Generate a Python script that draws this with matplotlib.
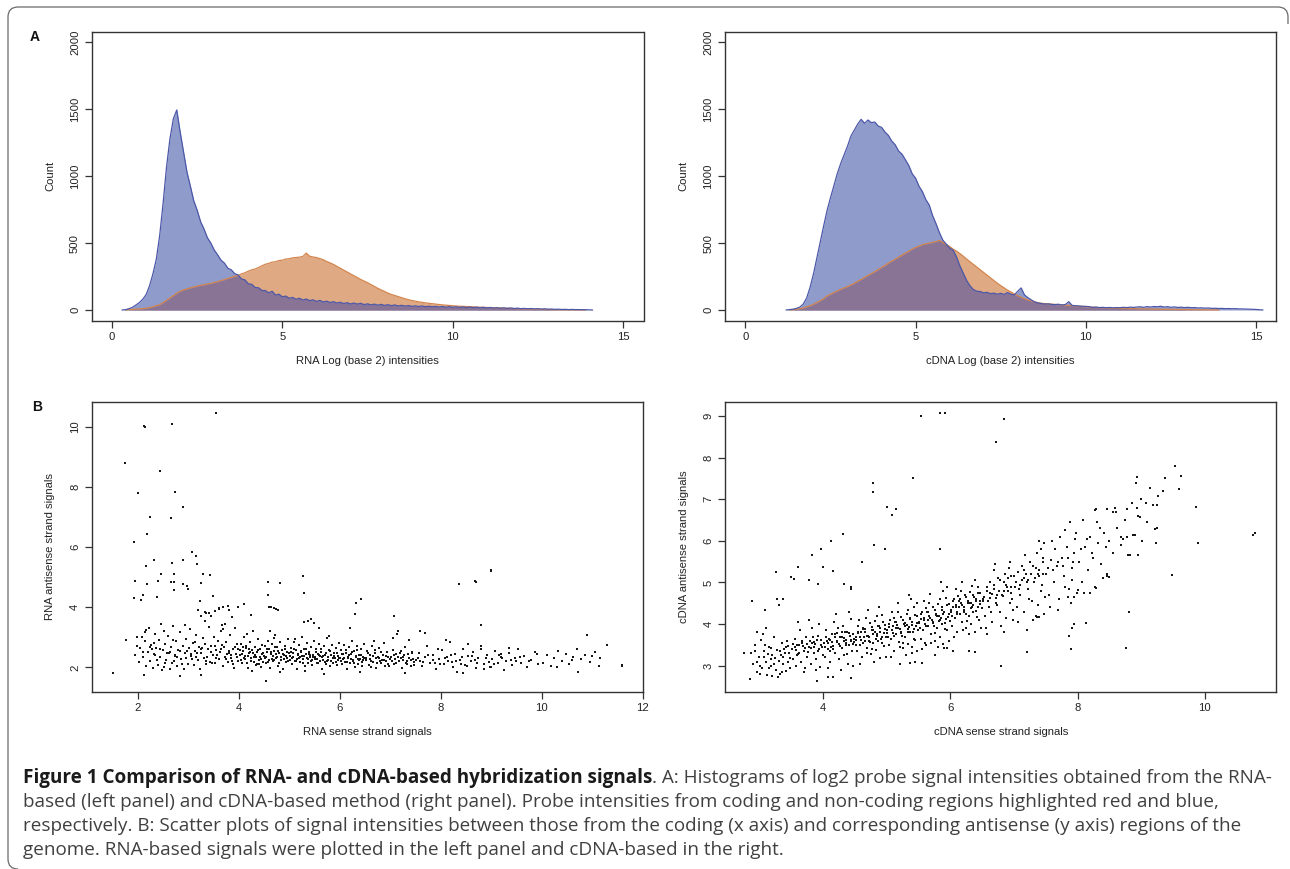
import numpy as np
import matplotlib
matplotlib.use("Agg")
import matplotlib.pyplot as plt
from matplotlib.path import Path
from matplotlib.patches import PathPatch

# ---------------- DATA ----------------
bin_width = 0.1
hist_xticks = [0, 5, 10, 15]
hist_yticks = [0, 500, 1000, 1500, 2000]

# RNA histogram: non-coding (blue) and coding (orange) counts
rna_nc_start = 0.3
rna_nc_counts = [
    0, 3, 10, 20, 37, 55, 80, 115, 180, 270,
    380, 560, 800, 1070, 1280, 1430, 1495, 1330, 1180, 1030,
    925, 815, 745, 660, 605, 540, 500, 448, 412, 372,
    350, 312, 300, 272, 262, 232, 225, 196, 192, 168,
    166, 146, 145, 128, 140, 112, 118, 98, 104, 88,
    94, 80, 88, 74, 82, 70, 76, 64, 72, 60,
    66, 56, 62, 52, 58, 48, 55, 45, 52, 44,
    50, 40, 46, 38, 44, 36, 42, 34, 40, 32,
    38, 30, 35, 29, 33, 27, 31, 26, 30, 25,
    28, 24, 27, 22, 26, 21, 25, 20, 24, 19,
    23, 18, 22, 17, 21, 16, 20, 15, 19, 14,
    17, 13, 16, 12, 15, 11, 14, 10, 12, 9,
    11, 8, 10, 7, 9, 6, 7, 5, 6, 4,
    5, 3, 4, 3, 3, 2, 2, 1, 0]
rna_cd_start = 0.4
rna_cd_counts = [
    0, 2, 4, 6, 8, 10, 14, 18, 24, 32,
    40, 55, 72, 90, 108, 125, 140, 150, 158, 165,
    172, 178, 185, 188, 195, 198, 206, 212, 220, 227,
    236, 243, 252, 258, 270, 278, 290, 300, 306, 318,
    330, 342, 348, 358, 360, 370, 372, 381, 383, 390,
    392, 395, 400, 425, 402, 396, 392, 384, 376, 362,
    352, 340, 326, 312, 298, 284, 270, 256, 242, 228,
    216, 204, 190, 176, 162, 150, 138, 126, 116, 108,
    100, 92, 84, 77, 71, 66, 61, 57, 53, 50,
    47, 44, 41, 38, 36, 34, 32, 30, 28, 27,
    26, 25, 24, 22, 21, 20, 19, 18, 17, 16,
    15, 14, 13, 12, 11, 10, 9, 8, 8, 7,
    6, 6, 5, 4, 4, 3, 3, 2, 2, 2,
    1, 1, 1, 0, 0, 0]

# cDNA histogram
cdna_nc_start = 1.2
cdna_nc_counts = [
    0, 3, 6, 12, 22, 45, 90, 170, 270, 390,
    510, 630, 745, 840, 930, 1020, 1095, 1160, 1225, 1300,
    1345, 1390, 1425, 1395, 1420, 1400, 1405, 1375, 1365, 1330,
    1305, 1262, 1235, 1188, 1165, 1122, 1080, 1018, 985, 925,
    885, 825, 785, 705, 645, 578, 522, 492, 462, 448,
    398, 330, 275, 220, 180, 152, 140, 138, 128, 132,
    122, 126, 118, 125, 116, 130, 118, 112, 140, 165,
    112, 92, 75, 60, 52, 48, 44, 46, 41, 40,
    43, 37, 41, 62, 34, 32, 30, 28, 27, 25,
    20, 22, 18, 20, 17, 19, 16, 18, 17, 20,
    18, 21, 19, 22, 24, 20, 25, 22, 26, 24,
    28, 22, 25, 20, 23, 19, 21, 18, 20, 17,
    18, 15, 16, 14, 15, 12, 13, 11, 12, 10,
    11, 9, 10, 8, 8, 7, 6, 5, 4, 2, 0]
cdna_cd_start = 1.3
cdna_cd_counts = [
    0, 2, 5, 10, 16, 24, 32, 42, 55, 70,
    85, 105, 118, 130, 142, 155, 165, 175, 187, 200,
    215, 228, 243, 258, 272, 287, 302, 318, 333, 350,
    365, 380, 395, 410, 425, 440, 455, 468, 478, 488,
    495, 500, 505, 512, 520, 505, 490, 475, 455, 440,
    422, 402, 380, 360, 340, 320, 300, 280, 260, 240,
    220, 200, 182, 165, 148, 135, 120, 108, 95, 85,
    75, 68, 60, 55, 50, 48, 46, 44, 42, 40,
    38, 36, 34, 32, 30, 28, 26, 24, 22, 20,
    19, 18, 17, 16, 15, 14, 13, 12, 11, 11,
    10, 10, 9, 9, 8, 8, 7, 7, 6, 6,
    5, 5, 5, 4, 4, 4, 3, 3, 3, 2,
    2, 2, 1, 1, 1, 0, 0]

# RNA scatter (sense x, antisense y)
rna_scatter_outliers = [
    (3.56, 10.47), (2.13, 10.03), (2.14, 10.0), (2.68, 10.08), (1.75, 8.8), (2.45, 8.54),
    (2.0, 7.78), (2.75, 7.83), (2.89, 7.32), (2.25, 7.0), (2.67, 6.96), (2.19, 6.44),
    (1.92, 6.16), (3.08, 5.85), (3.16, 5.71), (2.89, 5.56), (2.33, 5.58), (2.68, 5.48),
    (3.18, 5.45), (2.17, 5.36), (3.29, 5.1), (3.43, 5.08), (2.46, 5.11), (2.72, 5.1),
    (1.94, 4.86), (2.41, 4.86), (2.67, 4.85), (2.72, 4.83), (2.89, 4.77), (2.98, 4.69),
    (2.99, 4.6), (2.73, 4.58), (3.26, 4.8), (2.19, 4.77), (1.93, 4.32), (2.07, 4.24),
    (2.11, 4.42), (2.38, 4.34), (3.23, 4.2), (3.49, 4.37), (4.58, 4.84), (4.82, 4.8),
    (4.58, 4.42), (5.27, 5.05), (5.3, 4.46), (4.6, 4.0), (4.65, 4.02), (4.7, 3.98),
    (4.75, 3.95), (4.78, 3.9), (8.99, 5.25), (9.0, 5.2), (8.37, 4.77), (8.69, 4.86),
    (8.71, 4.84), (6.32, 4.14), (6.42, 4.27), (6.3, 3.76), (7.07, 3.71), (5.3, 3.5),
    (5.38, 3.55), (5.44, 3.62), (5.5, 3.48), (8.8, 3.41), (11.59, 2.09), (11.6, 2.04),
    (10.73, 1.84), (1.51, 1.82), (4.55, 1.56), (2.85, 1.71), (2.13, 1.73), (3.25, 1.73),
    (11.29, 2.74), (10.89, 3.06), (11.13, 2.04), (1.78, 2.91), (1.98, 3.02), (2.16, 3.24),
    (3.25, 3.72), (3.33, 3.85), (3.42, 3.8), (3.54, 3.88), (3.62, 3.98), (3.7, 4.0),
    (3.82, 3.9), (3.99, 4.02), (3.87, 3.66), (3.67, 3.4), (3.42, 3.33), (3.7, 3.28),
    (4.1, 4.12), (4.25, 3.75), (5.6, 3.32), (6.2, 3.3), (7.15, 3.22), (7.6, 3.2),
]
rna_scatter_body = [
    (2.02, 2.18), (2.05, 2.65), (2.08, 3.02), (2.11, 2.35), (2.14, 2.88), (2.17, 2.05),
    (2.2, 2.52), (2.22, 3.31), (2.25, 2.21), (2.27, 2.74), (2.3, 1.98), (2.32, 2.44),
    (2.35, 3.12), (2.37, 2.63), (2.4, 2.09), (2.42, 2.91), (2.45, 2.33), (2.47, 3.45),
    (2.5, 2.57), (2.52, 2.01), (2.55, 2.78), (2.57, 2.26), (2.6, 3.05), (2.62, 2.49),
    (2.64, 1.93), (2.67, 2.68), (2.69, 2.15), (2.71, 3.38), (2.74, 2.41), (2.76, 2.86),
    (2.79, 2.03), (2.81, 2.59), (2.84, 3.18), (2.86, 2.29), (2.89, 2.72), (2.91, 1.96),
    (2.94, 2.47), (2.96, 2.95), (2.99, 2.12), (3.01, 2.64), (3.04, 3.27), (3.06, 2.38),
    (3.09, 2.81), (3.11, 2.07), (3.14, 2.55), (3.16, 3.09), (3.19, 2.23), (3.21, 2.69),
    (3.24, 1.94), (3.26, 2.46), (3.29, 2.98), (3.31, 2.31), (3.34, 2.77), (3.36, 2.1),
    (3.39, 2.6), (3.41, 3.35), (3.44, 2.19), (3.46, 2.71), (3.49, 2.42), (3.51, 3.01),
    (3.54, 2.14), (3.56, 2.58), (3.59, 2.89), (3.61, 2.27), (3.64, 2.5), (3.66, 3.2),
    (3.69, 2.05), (3.71, 2.66), (3.74, 2.36), (3.76, 2.84), (3.79, 2.18), (3.81, 2.53),
    (3.84, 3.06), (3.86, 2.3), (3.89, 2.62), (3.91, 1.99), (3.94, 2.45), (3.96, 2.79),
    (3.99, 2.22), (1.95, 2.4), (1.98, 2.71), (2.15, 3.18), (2.28, 2.6), (2.38, 2.25),
    (2.48, 1.9), (2.58, 2.48), (2.7, 2.92), (2.78, 2.33), (2.88, 2.1), (2.98, 2.55),
    (3.08, 2.28), (3.18, 2.48), (3.28, 2.65), (3.38, 2.35), (3.48, 2.15), (3.58, 2.42),
    (3.68, 2.74), (3.78, 2.45), (3.88, 2.12), (3.98, 2.6), (2.33, 2.8), (2.53, 3.22),
    (2.73, 2.2), (2.93, 3.4), (3.13, 2.85), (3.33, 3.55), (3.53, 2.7), (3.73, 3.45),
    (3.93, 3.3), (3.45, 3.7), (3.62, 3.95), (3.8, 4.05), (3.2, 3.9), (3.35, 3.8),
    (4.03, 2.41), (4.05, 2.78), (4.07, 2.16), (4.09, 2.55), (4.11, 3.02), (4.13, 2.29),
    (4.15, 2.63), (4.18, 1.97), (4.2, 2.47), (4.22, 2.85), (4.24, 2.21), (4.26, 2.58),
    (4.28, 3.21), (4.3, 2.34), (4.32, 2.69), (4.34, 2.08), (4.36, 2.52), (4.38, 2.93),
    (4.4, 2.26), (4.42, 2.61), (4.44, 2.02), (4.46, 2.44), (4.47, 2.74), (4.49, 2.18),
    (4.12, 2.37), (4.23, 2.5), (4.33, 2.4), (4.43, 2.33), (4.08, 2.66), (4.37, 2.12),
    (4.27, 1.88), (4.17, 3.12),
    (4.51, 2.39), (4.52, 2.71), (4.54, 2.14), (4.56, 2.51), (4.58, 2.88), (4.6, 2.25),
    (4.61, 2.6), (4.63, 1.99), (4.65, 2.43), (4.67, 2.79), (4.69, 2.2), (4.7, 2.55),
    (4.72, 3.08), (4.74, 2.31), (4.76, 2.66), (4.78, 2.06), (4.8, 2.47), (4.82, 2.84),
    (4.84, 2.23), (4.86, 2.58), (4.88, 1.95), (4.9, 2.41), (4.92, 2.72), (4.94, 2.17),
    (4.96, 2.52), (4.98, 2.94), (4.55, 2.36), (4.66, 2.29), (4.75, 2.45), (4.85, 2.35),
    (4.95, 2.3), (4.62, 3.2), (4.83, 1.85), (4.7, 2.98),
    (5.01, 2.37), (5.03, 2.64), (5.05, 2.11), (5.07, 2.48), (5.09, 2.83), (5.11, 2.22),
    (5.13, 2.56), (5.15, 1.96), (5.17, 2.4), (5.19, 2.75), (5.21, 2.19), (5.23, 2.52),
    (5.25, 3.01), (5.27, 2.28), (5.29, 2.62), (5.31, 2.04), (5.33, 2.44), (5.35, 2.8),
    (5.37, 2.16), (5.39, 2.5), (5.41, 2.33), (5.43, 2.69), (5.45, 2.09), (5.47, 2.42),
    (5.49, 2.87), (5.06, 2.32), (5.16, 2.27), (5.26, 2.38), (5.36, 2.3), (5.46, 2.25),
    (5.12, 2.95), (5.32, 1.88), (5.22, 2.35), (5.42, 2.42),
    (5.51, 2.35), (5.53, 2.6), (5.55, 2.13), (5.57, 2.45), (5.59, 2.78), (5.61, 2.2),
    (5.63, 2.52), (5.65, 1.94), (5.67, 2.38), (5.69, 2.7), (5.71, 2.17), (5.73, 2.48),
    (5.75, 2.96), (5.77, 2.26), (5.79, 2.57), (5.81, 2.03), (5.83, 2.41), (5.85, 2.74),
    (5.87, 2.14), (5.89, 2.46), (5.91, 2.31), (5.93, 2.63), (5.95, 2.08), (5.97, 2.39),
    (5.99, 2.82), (5.56, 2.29), (5.66, 2.33), (5.76, 2.22), (5.86, 2.3), (5.96, 2.24),
    (5.7, 1.78), (5.8, 3.05), (5.6, 2.4),
    (6.01, 2.32), (6.03, 2.57), (6.05, 2.1), (6.07, 2.43), (6.09, 2.73), (6.11, 2.18),
    (6.13, 2.49), (6.15, 1.95), (6.17, 2.36), (6.19, 2.66), (6.21, 2.15), (6.23, 2.45),
    (6.25, 2.88), (6.27, 2.24), (6.29, 2.54), (6.31, 2.02), (6.33, 2.39), (6.35, 2.7),
    (6.37, 2.12), (6.39, 2.42), (6.41, 2.29), (6.43, 2.6), (6.45, 2.06), (6.47, 2.36),
    (6.49, 2.78), (6.06, 2.27), (6.16, 2.31), (6.26, 2.2), (6.36, 2.28), (6.46, 2.23),
    (6.4, 1.85),
    (6.52, 2.3), (6.55, 2.55), (6.58, 2.09), (6.61, 2.4), (6.64, 2.7), (6.67, 2.17),
    (6.7, 2.46), (6.73, 1.97), (6.76, 2.34), (6.79, 2.63), (6.82, 2.13), (6.85, 2.42),
    (6.88, 2.82), (6.91, 2.22), (6.94, 2.5), (6.97, 2.04), (6.6, 2.28), (6.72, 2.31),
    (6.84, 2.26), (6.96, 2.35), (6.68, 2.88), (6.9, 2.05), (6.8, 2.2), (6.62, 2.0),
    (7.02, 2.33), (7.05, 2.58), (7.08, 2.11), (7.11, 2.43), (7.14, 3.1), (7.17, 2.2),
    (7.2, 2.48), (7.23, 1.99), (7.26, 2.36), (7.29, 2.66), (7.32, 2.15), (7.35, 2.44),
    (7.38, 2.9), (7.41, 2.24), (7.44, 2.52), (7.47, 2.07), (7.1, 2.27), (7.22, 2.31),
    (7.34, 2.22), (7.46, 2.29), (7.05, 2.98), (7.3, 1.8), (7.42, 2.05),
    (7.52, 2.25), (7.58, 2.48), (7.63, 2.05), (7.69, 2.35), (7.74, 2.7), (7.8, 2.14),
    (7.85, 2.42), (7.9, 1.93), (7.96, 2.28), (8.02, 2.57), (8.07, 2.1), (8.12, 2.35),
    (8.18, 2.85), (8.23, 2.18), (8.28, 2.44), (8.33, 1.86), (8.38, 2.26), (8.44, 2.62),
    (8.49, 2.08), (8.54, 2.38), (8.6, 2.2), (8.65, 2.5), (8.7, 1.98), (8.75, 2.3),
    (8.81, 2.72), (8.86, 2.12), (8.91, 2.4), (8.97, 2.02), (9.02, 2.27), (9.08, 2.55),
    (9.13, 2.15), (9.19, 2.36), (9.25, 1.9), (9.3, 2.22), (9.36, 2.48), (9.42, 2.08),
    (9.48, 2.3), (9.54, 2.6), (9.6, 2.16), (9.66, 2.38), (9.72, 2.0), (9.8, 2.25),
    (9.86, 2.52), (9.92, 2.1), (7.6, 2.2), (7.88, 2.15), (8.15, 2.22), (8.4, 2.12),
    (8.68, 2.25), (8.95, 2.18), (9.22, 2.3), (9.5, 2.2), (7.7, 3.15), (8.1, 2.9),
    (8.45, 1.8), (8.8, 2.6), (9.0, 2.0), (9.35, 2.65), (9.9, 2.45), (7.95, 2.62),
    (8.25, 2.0), (8.55, 2.78), (8.85, 1.95), (9.15, 2.42),
    (10.02, 2.15), (10.1, 2.4), (10.18, 2.05), (10.25, 2.3), (10.33, 2.55), (10.4, 2.2),
    (10.48, 2.45), (10.55, 2.1), (10.63, 2.35), (10.7, 2.62), (10.78, 2.28), (10.86, 2.42),
    (10.95, 2.18), (11.05, 2.5), (11.15, 2.32), (10.3, 2.0), (10.6, 2.25), (11.0, 2.38),
]
rna_scatter_core = [
    (3.82, 2.48), (3.87, 2.2), (3.92, 2.66), (3.97, 2.35), (4.02, 2.57), (4.04, 2.25),
    (4.06, 2.44), (4.1, 2.31), (4.14, 2.7), (4.16, 2.14), (4.19, 2.39), (4.21, 2.62),
    (4.25, 2.3), (4.29, 2.49), (4.31, 2.17), (4.35, 2.36), (4.39, 2.56), (4.41, 2.12),
    (4.45, 2.28), (4.48, 2.46), (4.53, 2.32), (4.57, 2.62), (4.59, 2.18), (4.64, 2.5),
    (4.68, 2.38), (4.71, 2.24), (4.73, 2.66), (4.77, 2.34), (4.79, 2.54), (4.81, 2.15),
    (4.87, 2.44), (4.89, 2.28), (4.91, 2.6), (4.93, 2.37), (4.97, 2.21), (4.99, 2.48),
    (5.02, 2.26), (5.04, 2.52), (5.08, 2.34), (5.1, 2.6), (5.14, 2.2), (5.18, 2.45),
    (5.2, 2.3), (5.24, 2.55), (5.28, 2.14), (5.3, 2.39), (5.34, 2.62), (5.38, 2.27),
    (5.4, 2.44), (5.44, 2.2), (5.48, 2.35), (5.52, 2.28), (5.54, 2.5), (5.58, 2.16),
    (5.62, 2.37), (5.64, 2.6), (5.68, 2.25), (5.72, 2.42), (5.74, 2.1), (5.78, 2.33),
    (5.82, 2.55), (5.84, 2.21), (5.88, 2.38), (5.92, 2.19), (5.94, 2.47), (5.98, 2.3),
    (6.02, 2.22), (6.04, 2.45), (6.08, 2.3), (6.12, 2.58), (6.14, 2.18), (6.18, 2.4),
    (6.22, 2.27), (6.24, 2.52), (6.28, 2.13), (6.32, 2.33), (6.34, 2.56), (6.38, 2.25),
    (6.42, 2.4), (6.44, 2.17), (6.48, 2.31), (6.53, 2.24), (6.57, 2.46), (6.63, 2.2),
    (6.66, 2.37), (6.71, 2.58), (6.75, 2.15), (6.78, 2.3), (6.83, 2.5), (6.87, 2.23),
    (6.92, 2.39), (6.95, 2.12), (6.99, 2.28), (7.03, 2.2), (7.07, 2.42), (7.12, 2.16),
    (7.16, 2.34), (7.21, 2.55), (7.25, 2.25), (7.28, 2.4), (7.33, 2.1), (7.37, 2.3),
    (7.43, 2.46), (7.48, 2.19), (3.05, 2.45), (3.15, 2.35), (3.25, 2.6), (3.35, 2.2),
    (3.45, 2.5), (3.55, 2.3), (3.65, 2.62), (3.75, 2.28), (3.85, 2.42), (2.95, 2.3),
    (2.85, 2.55), (2.75, 2.38), (2.65, 2.5), (2.55, 2.15), (2.45, 2.62), (2.35, 2.4),
    (2.25, 2.68), (2.1, 2.5), (7.55, 2.32), (7.65, 2.18), (7.75, 2.4), (7.85, 2.26),
    (7.98, 2.12), (8.08, 2.3), (8.2, 2.42), (8.3, 2.2), (8.42, 2.34), (8.52, 2.05),
    (8.62, 2.38), (8.72, 2.15), (8.9, 2.3), (9.05, 2.1), (9.2, 2.45), (9.4, 2.25),
    (9.58, 2.35), (9.75, 2.22),
]

# cDNA scatter
cdna_scatter_outliers = [
    (5.53, 9.01), (5.83, 9.08), (5.91, 9.08), (6.84, 8.93), (6.71, 8.37), (4.78, 7.38),
    (4.78, 7.18), (5.41, 7.52), (5.0, 6.81), (5.15, 6.77), (5.08, 6.61), (4.31, 6.17),
    (4.12, 5.99), (3.96, 5.8), (3.82, 5.66), (4.8, 5.9), (4.97, 5.8), (5.83, 5.8),
    (4.61, 5.48), (4.0, 5.38), (4.15, 5.28), (3.25, 5.24), (3.6, 5.36), (3.5, 5.12),
    (3.54, 5.08), (3.78, 5.06), (3.91, 4.96), (4.33, 4.96), (4.44, 4.9), (4.44, 4.84),
    (2.88, 4.56), (3.27, 4.6), (3.37, 4.61), (3.09, 4.33), (9.53, 7.8), (9.63, 7.57),
    (9.38, 7.51), (8.94, 7.53), (8.92, 7.38), (9.6, 7.24), (9.35, 7.2), (9.14, 7.28),
    (9.26, 7.09), (9.07, 6.92), (9.86, 6.82), (9.25, 6.86), (8.94, 6.8), (8.77, 6.76),
    (8.59, 6.8), (8.46, 6.77), (8.29, 6.77), (8.56, 6.7), (8.98, 6.57), (10.76, 6.14),
    (10.79, 6.2), (9.9, 5.96), (9.22, 6.29), (9.23, 5.96), (9.49, 5.18), (8.81, 4.28),
    (8.76, 3.43), (7.9, 3.41), (7.87, 3.72), (7.91, 3.9), (7.95, 4.0), (8.13, 4.02),
    (7.85, 4.66), (7.94, 4.66), (7.2, 3.34), (6.79, 3.0), (8.79, 5.66), (8.95, 5.66),
    (8.68, 6.1), (8.78, 6.1), (8.91, 6.14), (8.46, 5.16), (8.49, 5.14), (8.29, 4.86),
    (8.0, 4.82), (8.2, 4.74), (7.36, 4.18), (7.4, 4.16), (2.76, 3.31), (2.84, 2.67),
    (3.9, 2.63), (4.08, 2.74), (4.15, 2.74), (4.44, 2.7), (5.36, 3.06), (5.55, 3.06),
    (6.04, 3.35), (5.95, 3.42), (6.3, 3.35), (6.38, 3.33), (3.3, 4.45), (2.95, 3.8),
]
cdna_scatter_body = [
    (2.86, 3.3), (2.9, 3.05), (2.93, 3.5), (2.96, 2.85), (2.99, 3.2), (3.02, 3.62),
    (3.04, 2.95), (3.07, 3.35), (3.1, 3.1), (3.12, 2.78), (3.15, 3.45), (3.17, 3.0),
    (3.2, 3.25), (3.22, 3.7), (3.25, 2.9), (3.27, 3.38), (3.3, 3.12), (3.32, 2.8),
    (3.35, 3.55), (3.37, 3.05), (3.4, 3.3), (3.42, 2.88), (3.45, 3.48), (3.47, 3.18),
    (3.0, 2.8), (3.08, 3.5), (3.18, 3.15), (3.28, 2.72), (3.38, 3.4), (3.48, 2.95),
    (3.13, 3.28), (3.23, 3.05), (3.33, 3.25), (3.43, 3.6), (2.95, 3.1), (3.05, 3.75),
    (3.2, 2.75), (3.35, 2.85), (3.45, 3.1), (3.1, 3.9),
    (3.51, 3.4), (3.53, 3.15), (3.55, 3.65), (3.57, 3.0), (3.59, 3.5), (3.61, 3.28),
    (3.63, 3.85), (3.65, 3.1), (3.67, 3.55), (3.69, 3.35), (3.71, 2.95), (3.73, 3.7),
    (3.75, 3.2), (3.77, 3.45), (3.79, 3.6), (3.81, 3.05), (3.83, 3.9), (3.85, 3.3),
    (3.87, 3.52), (3.89, 3.15), (3.91, 3.72), (3.93, 3.4), (3.95, 2.98), (3.97, 3.62),
    (3.99, 3.25), (3.56, 3.45), (3.62, 3.5), (3.68, 3.48), (3.74, 3.52), (3.8, 3.42),
    (3.86, 3.58), (3.92, 3.35), (3.98, 3.45), (3.6, 4.05), (3.7, 2.85), (3.78, 4.1),
    (3.88, 2.9), (3.94, 4.0), (3.58, 3.25), (3.84, 3.7),
    (4.01, 3.55), (4.03, 3.2), (4.05, 3.85), (4.07, 3.4), (4.09, 3.65), (4.11, 3.1),
    (4.13, 3.75), (4.15, 3.48), (4.17, 4.05), (4.19, 3.3), (4.21, 3.6), (4.23, 3.9),
    (4.25, 3.15), (4.27, 3.7), (4.29, 3.42), (4.31, 3.95), (4.33, 3.25), (4.35, 3.62),
    (4.37, 3.82), (4.39, 3.05), (4.41, 3.5), (4.43, 4.12), (4.45, 3.35), (4.47, 3.75),
    (4.49, 3.58), (4.06, 3.6), (4.12, 3.45), (4.18, 3.68), (4.24, 3.52), (4.3, 3.7),
    (4.36, 3.55), (4.42, 3.72), (4.48, 3.65), (4.08, 2.95), (4.2, 4.25), (4.28, 2.9),
    (4.4, 4.3), (4.46, 3.0), (4.14, 3.58), (4.34, 3.8), (4.44, 3.62), (4.1, 3.35),
    (4.22, 3.78), (4.32, 3.6), (4.38, 3.28),
    (4.51, 3.7), (4.53, 3.35), (4.55, 3.95), (4.57, 3.5), (4.59, 3.8), (4.61, 3.2),
    (4.63, 3.9), (4.65, 3.6), (4.67, 4.15), (4.69, 3.42), (4.71, 3.72), (4.73, 4.02),
    (4.75, 3.28), (4.77, 3.85), (4.79, 3.55), (4.81, 4.08), (4.83, 3.38), (4.85, 3.75),
    (4.87, 3.95), (4.89, 3.18), (4.91, 3.65), (4.93, 4.22), (4.95, 3.48), (4.97, 3.88),
    (4.99, 3.7), (4.54, 3.78), (4.6, 3.62), (4.66, 3.82), (4.72, 3.68), (4.78, 3.86),
    (4.84, 3.72), (4.9, 3.9), (4.96, 3.78), (4.58, 3.05), (4.7, 4.35), (4.8, 3.1),
    (4.88, 4.4), (4.98, 3.2), (4.64, 3.7), (4.86, 3.6), (4.52, 3.5), (4.62, 3.88),
    (4.74, 3.58), (4.82, 3.8), (4.92, 3.55), (4.56, 4.1), (4.76, 3.4), (4.94, 4.05),
    (4.68, 3.3), (4.84, 4.2),
    (5.01, 3.85), (5.03, 3.5), (5.05, 4.1), (5.07, 3.65), (5.09, 3.95), (5.11, 3.35),
    (5.13, 4.05), (5.15, 3.75), (5.17, 4.3), (5.19, 3.58), (5.21, 3.88), (5.23, 4.18),
    (5.25, 3.42), (5.27, 4.0), (5.29, 3.7), (5.31, 4.25), (5.33, 3.52), (5.35, 3.92),
    (5.37, 4.12), (5.39, 3.3), (5.41, 3.8), (5.43, 4.4), (5.45, 3.62), (5.47, 4.02),
    (5.49, 3.85), (5.04, 3.92), (5.1, 3.78), (5.16, 3.98), (5.22, 3.82), (5.28, 4.02),
    (5.34, 3.88), (5.4, 4.06), (5.46, 3.95), (5.06, 3.2), (5.18, 4.5), (5.3, 3.25),
    (5.38, 4.6), (5.48, 3.35), (5.14, 3.9), (5.36, 3.8), (5.02, 3.68), (5.12, 4.15),
    (5.24, 3.72), (5.32, 3.98), (5.42, 3.65), (5.08, 4.28), (5.26, 3.55), (5.44, 4.22),
    (5.2, 3.45), (5.34, 4.35), (5.44, 3.1), (5.2, 3.05), (5.35, 4.7), (5.4, 3.45),
    (5.47, 4.5),
    (5.51, 4.05), (5.53, 3.65), (5.55, 4.3), (5.57, 3.85), (5.59, 4.15), (5.61, 3.5),
    (5.63, 4.28), (5.65, 3.95), (5.67, 4.5), (5.69, 3.75), (5.71, 4.1), (5.73, 4.4),
    (5.75, 3.6), (5.77, 4.22), (5.79, 3.9), (5.81, 4.48), (5.83, 3.7), (5.85, 4.15),
    (5.87, 4.35), (5.89, 3.52), (5.91, 4.02), (5.93, 4.62), (5.95, 3.85), (5.97, 4.25),
    (5.99, 4.08), (5.54, 4.12), (5.6, 4.0), (5.66, 4.2), (5.72, 4.05), (5.78, 4.25),
    (5.84, 4.1), (5.9, 4.3), (5.96, 4.18), (5.56, 3.4), (5.68, 4.72), (5.8, 3.45),
    (5.88, 4.8), (5.98, 3.6), (5.64, 4.1), (5.86, 4.0), (5.52, 3.9), (5.62, 4.38),
    (5.74, 3.95), (5.82, 4.2), (5.92, 3.88), (5.58, 4.55), (5.76, 3.78), (5.94, 4.45),
    (5.7, 3.55), (5.84, 4.6), (5.9, 3.42), (5.75, 3.25), (5.85, 5.02), (5.6, 3.55),
    (5.95, 4.9),
    (6.01, 4.35), (6.03, 3.95), (6.05, 4.6), (6.07, 4.15), (6.09, 4.45), (6.11, 3.8),
    (6.13, 4.55), (6.15, 4.25), (6.17, 4.8), (6.19, 4.05), (6.21, 4.4), (6.23, 4.7),
    (6.25, 3.9), (6.27, 4.5), (6.29, 4.2), (6.31, 4.78), (6.33, 4.0), (6.35, 4.45),
    (6.37, 4.65), (6.39, 3.82), (6.41, 4.32), (6.43, 4.9), (6.45, 4.1), (6.47, 4.55),
    (6.49, 4.38), (6.04, 4.42), (6.1, 4.3), (6.16, 4.5), (6.22, 4.35), (6.28, 4.55),
    (6.34, 4.4), (6.4, 4.6), (6.46, 4.48), (6.06, 3.7), (6.18, 5.0), (6.3, 3.75),
    (6.38, 5.05), (6.48, 3.9), (6.14, 4.4), (6.36, 4.3), (6.02, 4.2), (6.12, 4.68),
    (6.24, 4.25), (6.32, 4.5), (6.42, 4.18), (6.08, 4.85), (6.26, 4.08), (6.44, 4.75),
    (6.2, 3.85), (6.34, 4.92),
    (6.51, 4.6), (6.54, 4.2), (6.57, 4.9), (6.6, 4.4), (6.63, 4.75), (6.66, 4.05),
    (6.69, 4.85), (6.72, 4.5), (6.75, 5.1), (6.78, 4.3), (6.81, 4.7), (6.84, 5.0),
    (6.87, 4.15), (6.9, 4.8), (6.93, 4.5), (6.96, 5.15), (6.99, 4.35), (6.53, 4.65),
    (6.59, 4.55), (6.65, 4.72), (6.71, 4.62), (6.77, 4.8), (6.83, 4.68), (6.89, 4.88),
    (6.95, 4.75), (6.56, 3.9), (6.68, 5.3), (6.8, 3.95), (6.92, 5.35), (6.98, 4.1),
    (6.62, 5.0), (6.74, 4.45), (6.86, 5.2), (6.97, 4.6), (6.58, 3.75), (6.7, 5.45),
    (6.85, 3.8), (6.94, 5.5), (6.64, 4.3), (6.88, 4.95),
    (7.01, 4.9), (7.04, 4.4), (7.07, 5.25), (7.1, 4.7), (7.13, 5.05), (7.16, 4.3),
    (7.19, 5.2), (7.22, 4.85), (7.25, 5.5), (7.28, 4.55), (7.31, 5.0), (7.34, 5.35),
    (7.37, 4.45), (7.4, 5.15), (7.43, 4.8), (7.46, 5.6), (7.49, 4.65), (7.03, 5.0),
    (7.09, 4.95), (7.15, 5.1), (7.21, 5.0), (7.27, 5.2), (7.33, 5.1), (7.39, 5.3),
    (7.45, 5.2), (7.06, 4.05), (7.18, 5.65), (7.3, 4.1), (7.42, 5.8), (7.48, 4.25),
    (7.12, 5.4), (7.24, 4.6), (7.36, 5.7), (7.44, 4.95), (7.2, 3.85), (7.4, 6.0),
    (7.35, 4.2), (7.47, 5.95),
    (7.51, 5.2), (7.55, 4.7), (7.59, 5.55), (7.63, 5.0), (7.67, 5.4), (7.71, 4.6),
    (7.75, 5.6), (7.79, 5.15), (7.83, 5.85), (7.87, 4.85), (7.91, 5.35), (7.95, 5.7),
    (7.99, 4.75), (7.53, 5.35), (7.61, 5.3), (7.69, 5.5), (7.77, 5.4), (7.85, 5.6),
    (7.93, 5.5), (7.57, 4.4), (7.73, 6.1), (7.89, 4.5), (7.97, 6.2), (7.65, 5.8),
    (7.81, 4.9), (7.6, 6.0), (7.7, 4.35), (7.8, 6.25), (7.88, 6.45), (7.92, 5.05),
    (7.96, 6.05),
    (8.02, 5.5), (8.07, 5.0), (8.12, 5.85), (8.17, 5.3), (8.22, 5.7), (8.27, 4.9),
    (8.32, 5.95), (8.37, 5.45), (8.42, 6.2), (8.47, 5.2), (8.05, 5.8), (8.15, 6.05),
    (8.25, 5.6), (8.35, 6.3), (8.45, 5.85), (8.1, 4.75), (8.3, 6.45), (8.4, 5.1),
    (8.2, 6.1), (8.5, 6.0), (8.08, 6.5), (8.28, 6.75), (8.55, 5.7), (8.62, 6.3),
    (8.68, 5.9), (8.75, 6.5), (8.82, 5.65), (8.88, 6.15), (8.95, 6.6), (9.02, 6.0),
    (9.1, 6.45), (9.18, 6.85), (9.25, 6.3), (8.6, 6.7), (8.72, 6.05), (8.85, 6.9),
    (9.0, 7.0),
]
cdna_scatter_core = [
    (3.32, 3.35), (3.36, 3.2), (3.41, 3.45), (3.46, 3.3), (3.52, 3.52), (3.57, 3.38),
    (3.62, 3.3), (3.66, 3.6), (3.72, 3.42), (3.76, 3.32), (3.82, 3.55), (3.86, 3.45),
    (3.9, 3.62), (3.96, 3.5), (4.02, 3.45), (4.04, 3.7), (4.08, 3.55), (4.11, 3.62),
    (4.15, 3.4), (4.19, 3.75), (4.22, 3.58), (4.26, 3.48), (4.29, 3.8), (4.33, 3.66),
    (4.36, 3.5), (4.4, 3.78), (4.43, 3.6), (4.47, 3.52), (4.52, 3.62), (4.55, 3.82),
    (4.58, 3.7), (4.62, 3.55), (4.65, 3.88), (4.69, 3.72), (4.72, 3.6), (4.76, 3.92),
    (4.79, 3.76), (4.83, 3.65), (4.86, 3.95), (4.9, 3.8), (4.93, 3.68), (4.97, 3.98),
    (5.01, 3.78), (5.04, 4.0), (5.08, 3.85), (5.11, 3.72), (5.15, 4.05), (5.18, 3.9),
    (5.22, 3.78), (5.25, 4.1), (5.29, 3.95), (5.33, 3.82), (5.36, 4.15), (5.4, 3.98),
    (5.43, 3.88), (5.47, 4.2), (5.51, 4.02), (5.54, 4.25), (5.58, 4.1), (5.61, 3.95),
    (5.65, 4.3), (5.68, 4.15), (5.72, 4.02), (5.75, 4.35), (5.79, 4.2), (5.82, 4.08),
    (5.86, 4.42), (5.89, 4.25), (5.93, 4.12), (5.97, 4.48), (6.01, 4.3), (6.04, 4.55),
    (6.08, 4.4), (6.11, 4.25), (6.15, 4.6), (6.18, 4.45), (6.22, 4.3), (6.25, 4.65),
    (6.29, 4.5), (6.33, 4.38), (6.36, 4.7), (6.4, 4.55), (6.43, 4.42), (6.47, 4.75),
    (6.52, 4.55), (6.58, 4.8), (6.63, 4.62), (6.68, 4.95), (6.73, 4.7), (6.78, 5.05),
    (6.84, 4.8), (6.9, 5.1), (6.95, 4.9), (7.0, 5.15), (7.08, 4.85), (7.15, 5.3),
    (7.22, 5.05), (7.3, 5.4), (7.38, 5.2), (7.45, 5.5), (3.0, 3.0), (3.06, 3.22),
    (3.14, 2.95), (3.24, 3.18), (2.92, 3.35), (3.18, 3.42),
]

# ---------------- STYLE ----------------
W, H, DPI = 1290, 869, 100
AX_FONT = ["Liberation Sans", "DejaVu Sans"]
CAP_FONT = ["Open Sans", "DejaVu Sans"]
BLUE_FILL = "#8e9bcb"
ORANGE_FILL = "#dea983"
OVERLAP_FILL = "#8a7496"
BLUE_LINE = "#4c57a8"
ORANGE_LINE = "#d4844c"
AX_COL = "#333333"
AX_FS = 8.1

plt.rcParams["font.family"] = AX_FONT

fig = plt.figure(figsize=(W / DPI, H / DPI), dpi=DPI)


def px_axes(l, t, r, b):
    return fig.add_axes([l / W, 1 - b / H, (r - l) / W, (b - t) / H])


def style_axes(ax, xlabel, ylabel, xlab_off, ylab_off):
    for sp in ax.spines.values():
        sp.set_color(AX_COL)
        sp.set_linewidth(1.0)
    ax.tick_params(axis="both", direction="out", length=5, width=0.9,
                   color=AX_COL, labelsize=AX_FS, labelcolor="#222222", pad=3.3)
    for lbl in ax.get_yticklabels():
        lbl.set_rotation(90)
        lbl.set_va("center")
    ax.set_xlabel(xlabel, fontsize=AX_FS, color="#222222")
    ax.set_ylabel(ylabel, fontsize=AX_FS, color="#222222")
    ax.xaxis.set_label_coords(0.5, xlab_off)
    ax.xaxis.label.set_va("center")
    ax.yaxis.set_label_coords(ylab_off, 0.5)
    ax.yaxis.label.set_va("center")


def draw_hist(ax, nc_start, nc_counts, cd_start, cd_counts):
    xn = nc_start + bin_width * np.arange(len(nc_counts))
    xc = cd_start + bin_width * np.arange(len(cd_counts))
    yn = np.array(nc_counts, dtype=float)
    yc = np.array(cd_counts, dtype=float)
    grid = np.round(np.arange(min(xn[0], xc[0]), max(xn[-1], xc[-1]) + 1e-9, bin_width), 3)
    gn = np.interp(grid, xn, yn, left=0, right=0)
    gc = np.interp(grid, xc, yc, left=0, right=0)
    ax.fill_between(xc, 0, yc, color=ORANGE_FILL, lw=0, zorder=1)
    ax.fill_between(xn, 0, yn, color=BLUE_FILL, lw=0, zorder=2)
    ax.fill_between(grid, 0, np.minimum(gn, gc), color=OVERLAP_FILL, lw=0, zorder=3)
    ax.plot(xc, yc, color=ORANGE_LINE, lw=0.9, zorder=4)
    ax.plot(xn, yn, color=BLUE_LINE, lw=0.9, zorder=5)
    ax.set_xlim(-0.6, 15.6)
    ax.set_ylim(-80, 2080)
    ax.set_xticks(hist_xticks)
    ax.set_yticks(hist_yticks)


ax1 = px_axes(91.6, 31.7, 643.5, 320.7)
draw_hist(ax1, rna_nc_start, rna_nc_counts, rna_cd_start, rna_cd_counts)
style_axes(ax1, "RNA Log (base 2) intensities", "Count", -0.139, -0.075)

ax2 = px_axes(725, 31.7, 1276.4, 320.7)
draw_hist(ax2, cdna_nc_start, cdna_nc_counts, cdna_cd_start, cdna_cd_counts)
style_axes(ax2, "cDNA Log (base 2) intensities", "Count", -0.139, -0.076)


def draw_scatter(ax, pts):
    xs = [p[0] for p in pts]
    ys = [p[1] for p in pts]
    ax.scatter(xs, ys, s=2.6, marker="s", color="#161616", linewidths=0)


ax3 = px_axes(91.6, 402.3, 642.6, 691.7)
draw_scatter(ax3, rna_scatter_body + rna_scatter_core + rna_scatter_outliers)
ax3.set_xlim(1.09, 12.0)
ax3.set_ylim(1.19, 10.81)
ax3.set_xticks([2, 4, 6, 8, 10, 12])
ax3.set_yticks([2, 4, 6, 8, 10])
style_axes(ax3, "RNA sense strand signals", "RNA antisense strand signals", -0.138, -0.075)

ax4 = px_axes(725, 402.3, 1276.4, 691.7)
draw_scatter(ax4, cdna_scatter_body + cdna_scatter_core + cdna_scatter_outliers)
ax4.set_xlim(2.454, 11.128)
ax4.set_ylim(2.375, 9.33)
ax4.set_xticks([4, 6, 8, 10])
ax4.set_yticks([3, 4, 5, 6, 7, 8, 9])
style_axes(ax4, "cDNA sense strand signals", "cDNA antisense strand signals", -0.138, -0.074)

fig.text(35 / W, 1 - 37 / H, "A", fontsize=10, fontweight="bold", ha="center", va="center",
         color="#111111")
fig.text(37 / W, 1 - 407 / H, "B", fontsize=10, fontweight="bold", ha="center", va="center",
         color="#111111")


# Open frame: top edge and left edge with rounded corners (in pixel units -> inches)
def pin(x, y):
    return (x / DPI, (H - y) / DPI)


frame_verts = [pin(18, 869), pin(8, 869), pin(8, 859),
               pin(8, 17),
               pin(8, 7), pin(18, 7),
               pin(1278, 7),
               pin(1288, 7), pin(1288, 17),
               pin(1288, 24)]
frame_codes = [Path.MOVETO, Path.CURVE3, Path.CURVE3,
               Path.LINETO,
               Path.CURVE3, Path.CURVE3,
               Path.LINETO,
               Path.CURVE3, Path.CURVE3,
               Path.LINETO]
frame = PathPatch(Path(frame_verts, frame_codes), transform=fig.dpi_scale_trans,
                  fill=False, edgecolor="#6a6a6a", linewidth=0.9)
fig.add_artist(frame)

cap_bold = "Figure 1 Comparison of RNA- and cDNA-based hybridization signals"
cap_lines = [
    ". A: Histograms of log2 probe signal intensities obtained from the RNA-",
    "based (left panel) and cDNA-based method (right panel). Probe intensities from coding and non-coding regions highlighted red and blue,",
    "respectively. B: Scatter plots of signal intensities between those from the coding (x axis) and corresponding antisense (y axis) regions of the",
    "genome. RNA-based signals were plotted in the left panel and cDNA-based in the right.",
]
cap_x = 23
cap_baselines = [783, 807, 831, 855]
target_w = 1275 - 23

renderer = fig.canvas.get_renderer()
fs = 10.0
tb = fig.text(cap_x / W, 1 - cap_baselines[0] / H, cap_bold, fontsize=fs, fontweight="bold",
              family=CAP_FONT, va="baseline", color="#1a1a1a")
tn = fig.text(0, 1 - cap_baselines[0] / H, cap_lines[0], fontsize=fs, family=CAP_FONT,
              va="baseline", color="#404040")
wb = tb.get_window_extent(renderer).width
wn = tn.get_window_extent(renderer).width
fs = fs * target_w / (wb + wn)
tb.set_fontsize(fs)
tn.set_fontsize(fs)
wb = tb.get_window_extent(renderer).width
tn.set_x((cap_x + wb) / W)
for line, yb in zip(cap_lines[1:], cap_baselines[1:]):
    fig.text(cap_x / W, 1 - yb / H, line, fontsize=fs, family=CAP_FONT, va="baseline",
             color="#404040")

fig.savefig("out.png", dpi=DPI)
